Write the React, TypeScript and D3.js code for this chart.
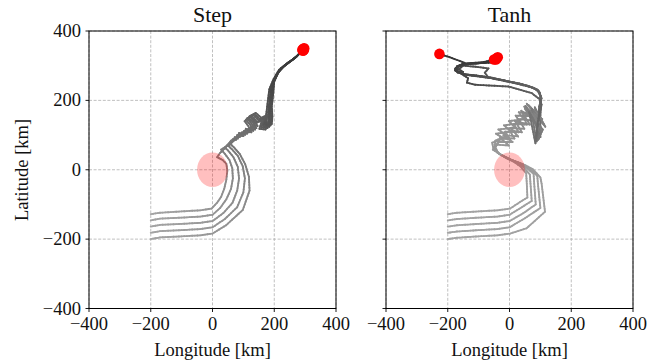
import React from 'react';
import * as d3 from 'd3';

type P = [number, number];

const tickValues = [-400, -200, 0, 200, 400];
const panelTitles = ['Step', 'Tanh'];
const xAxisLabel = 'Longitude [km]';
const yAxisLabel = 'Latitude [km]';
const obstacle = { x: 0, y: 0, r: 50 };

// ---- Step panel trajectories (km) ----
const step0: P[] = [[-200,-128],[-170,-124],[-100,-120],[-40,-117],[-3,-112],[15,-95],[28,-78],[38,-55],[45,-28],[48,-3],[45,17],[33,28],[15,36],[24,48],[38,60],[50,72],[60,84],[76,86],[84,100],[100,97],[108,112],[126,108],[116,126],[104,140],[124,152],[138,134],[160,142],[152,118],[172,116],[176,138],[174,160],[178,190],[184,232],[198,262],[215,288],[240,306],[265,321],[280,333],[291,346]];
const step1: P[] = [[-200,-146],[-170,-141],[-100,-138],[-40,-135],[0,-130],[25,-110],[45,-85],[60,-55],[66,-25],[64,5],[55,28],[40,46],[28,58],[42,66],[56,78],[66,88],[82,90],[90,104],[106,101],[114,116],[132,112],[122,130],[108,144],[128,155],[144,138],[166,146],[158,122],[178,120],[182,142],[180,165],[184,196],[190,240],[204,268],[222,292],[246,309],[268,323],[282,335],[294,349]];
const step2: P[] = [[-200,-164],[-170,-159],[-100,-156],[-40,-153],[0,-148],[35,-125],[65,-95],[80,-60],[86,-25],[82,8],[68,36],[50,56],[40,64],[55,74],[68,84],[72,94],[88,94],[96,108],[112,104],[120,120],[138,116],[126,134],[112,148],[132,158],[150,142],[170,150],[164,126],[184,124],[186,146],[184,170],[188,202],[194,246],[208,275],[228,296],[252,312],[272,326],[284,338],[296,345]];
const step3: P[] = [[-200,-182],[-170,-177],[-100,-174],[-40,-171],[0,-166],[40,-142],[80,-108],[100,-65],[105,-25],[98,10],[82,40],[62,60],[52,68],[64,80],[76,90],[80,100],[96,98],[102,112],[118,108],[124,124],[142,120],[130,138],[116,150],[136,160],[154,146],[174,154],[168,130],[188,128],[190,150],[188,176],[192,208],[198,250],[212,280],[232,299],[256,315],[274,328],[286,340],[293,343]];
const step4: P[] = [[-200,-200],[-170,-195],[-100,-192],[-40,-189],[0,-184],[44,-160],[98,-116],[120,-60],[118,-20],[106,16],[88,46],[68,66],[58,74],[70,86],[82,96],[86,106],[102,104],[108,118],[124,114],[130,130],[146,126],[134,144],[120,154],[140,164],[158,150],[178,158],[172,134],[192,132],[194,154],[192,182],[196,214],[200,256],[216,284],[236,302],[260,318],[276,330],[288,342],[297,350]];

// ---- Tanh panel trajectories (km) ----
const tanh0: P[] = [[-200,-128],[-170,-124],[-100,-120],[-40,-117],[2,-112],[34,-93],[58,-80],[56,-40],[54,-10],[35,10],[12,24],[-15,36],[-38,50],[-46,66],[-30,92],[2,86],[-14,110],[30,108],[14,132],[56,130],[44,158],[100,150],[62,186],[116,124],[82,180],[100,94],[100,150],[102,196],[98,222],[80,236],[40,247],[-20,258],[-90,270],[-150,276],[-175,286],[-170,298],[-145,306],[-100,309],[-60,311],[-42,321]];
const tanh1: P[] = [[-200,-146],[-170,-142],[-100,-138],[-40,-135],[0,-130],[40,-108],[72,-90],[68,-40],[66,-14],[45,8],[20,22],[-10,34],[-36,48],[-48,64],[-46,84],[-8,98],[-36,116],[18,122],[-2,140],[46,146],[30,166],[90,160],[56,190],[110,132],[72,176],[96,90],[98,148],[100,190],[100,214],[88,232],[50,244],[-10,256],[-80,268],[-145,275],[-172,284],[-168,296],[-142,304],[-100,307],[-60,309],[-44,318]];
const tanh2: P[] = [[-200,-164],[-170,-160],[-100,-156],[-40,-153],[0,-148],[45,-125],[85,-100],[80,-40],[78,-12],[55,6],[28,20],[-5,32],[-34,46],[-50,62],[-34,80],[10,80],[-20,100],[28,96],[4,120],[48,118],[30,146],[74,142],[50,176],[106,146],[66,160],[108,116],[92,86],[96,146],[98,186],[102,210],[92,230],[60,242],[0,254],[-70,268],[-80,280],[-68,292],[-110,297],[-150,300],[-165,290],[-150,282],[-172,284],[-168,297],[-140,306],[-90,309],[-50,318]];
const tanh3: P[] = [[-200,-182],[-170,-178],[-100,-174],[-40,-171],[0,-166],[50,-140],[100,-110],[92,-40],[90,-18],[66,4],[36,18],[2,30],[-30,44],[-52,60],[-56,78],[-18,90],[-44,104],[6,110],[-18,128],[36,134],[20,156],[80,154],[48,182],[104,112],[70,170],[88,82],[94,142],[96,182],[104,206],[96,226],[70,238],[10,251],[-60,264],[-130,272],[-168,280],[-176,292],[-155,302],[-120,306],[-80,308],[-38,324]];
const tanh4: P[] = [[-200,-200],[-170,-196],[-100,-192],[-40,-189],[2,-184],[55,-169],[115,-121],[104,-40],[100,-22],[75,2],[44,16],[8,28],[-26,42],[-54,58],[-40,72],[-2,70],[-30,92],[16,90],[0,114],[40,108],[18,140],[66,130],[38,170],[96,136],[52,184],[100,108],[64,166],[84,76],[92,140],[100,170],[104,188],[98,203],[72,221],[-4,240],[-111,245],[-138,251],[-134,264],[-155,276],[-177,287],[-170,298],[-145,308],[-186,322],[-227,334]];

const stepLines = [step0, step1, step2, step3, step4];
const tanhLines = [tanh0, tanh1, tanh2, tanh3, tanh4];

const FONT = '"Liberation Serif", "DejaVu Serif", "Times New Roman", serif';
const PLOT_W = 247;
const TOP = 31;
const BOTTOM = 308.5;
const lineColor = d3.interpolateRgb('#a3a3a3', '#323232');

function Panel({ left, title, lines, showYLabels, gamma }: { left: number; title: string; lines: P[][]; showYLabels: boolean; gamma: number }) {
  const x = d3.scaleLinear().domain([-400, 400]).range([left, left + PLOT_W]);
  const y = d3.scaleLinear().domain([-400, 400]).range([BOTTOM, TOP]);
  const clipId = `clip-${title}`;

  const segs: { x1: number; y1: number; x2: number; y2: number; c: string }[] = [];
  lines.forEach((pts) => {
    const px = pts.map((p) => [x(p[0]), y(p[1])] as P);
    const cum = [0];
    for (let i = 1; i < px.length; i++) {
      cum.push(cum[i - 1] + Math.hypot(px[i][0] - px[i - 1][0], px[i][1] - px[i - 1][1]));
    }
    const total = cum[cum.length - 1];
    for (let i = 0; i < px.length - 1; i++) {
      const a = px[i], b = px[i + 1];
      const d = cum[i + 1] - cum[i];
      const k = Math.max(1, Math.ceil(d / 3));
      for (let j = 0; j < k; j++) {
        const t0 = j / k, t1 = (j + 1) / k;
        const f = (cum[i] + d * (j + 0.5) / k) / total;
        segs.push({
          x1: a[0] + (b[0] - a[0]) * t0,
          y1: a[1] + (b[1] - a[1]) * t0,
          x2: a[0] + (b[0] - a[0]) * t1,
          y2: a[1] + (b[1] - a[1]) * t1,
          c: lineColor(Math.pow(f, gamma)),
        });
      }
    }
  });

  const cx = x(obstacle.x), cy = y(obstacle.y);
  const rx = x(obstacle.r) - x(0), ry = y(0) - y(obstacle.r);
  const fmt = (v: number) => (v < 0 ? '\u2212' + Math.abs(v) : String(v));
  const tickFont = { fontFamily: FONT, fontSize: '18.5px' };

  return (
    <g>
      <defs>
        <clipPath id={clipId}>
          <rect x={left} y={TOP} width={PLOT_W} height={BOTTOM - TOP} />
        </clipPath>
      </defs>
      {tickValues.map((v) => (
        <g key={'g' + v}>
          <line x1={x(v)} x2={x(v)} y1={TOP} y2={BOTTOM} stroke="#b0b0b0" strokeWidth={0.8} strokeDasharray="3,1.6" />
          <line x1={left} x2={left + PLOT_W} y1={y(v)} y2={y(v)} stroke="#b0b0b0" strokeWidth={0.8} strokeDasharray="3,1.6" />
        </g>
      ))}
      <g clipPath={`url(#${clipId})`}>
        {segs.map((s, i) => (
          <line key={i} x1={s.x1} y1={s.y1} x2={s.x2} y2={s.y2} stroke={s.c} strokeWidth={1.85} strokeLinecap="round" />
        ))}
        <ellipse cx={cx} cy={cy} rx={rx} ry={ry} fill="rgba(255,0,0,0.25)" />
        {lines.map((pts, i) => {
          const e = pts[pts.length - 1];
          return <circle key={'d' + i} cx={x(e[0])} cy={y(e[1])} r={5.3} fill="#ff0000" />;
        })}
      </g>
      <rect x={left} y={TOP} width={PLOT_W} height={BOTTOM - TOP} fill="none" stroke="#000" strokeWidth={1} />
      {tickValues.map((v) => (
        <g key={'t' + v}>
          <line x1={x(v)} x2={x(v)} y1={BOTTOM} y2={BOTTOM + 3.5} stroke="#000" strokeWidth={0.9} />
          <line x1={left - 3.5} x2={left} y1={y(v)} y2={y(v)} stroke="#000" strokeWidth={0.9} />
          <text x={x(v)} y={330} textAnchor="middle" style={tickFont} fill="#111">
            {fmt(v)}
          </text>
          {showYLabels && (
            <text x={left - 8} y={y(v) + 6} textAnchor="end" style={tickFont} fill="#111">
              {fmt(v)}
            </text>
          )}
        </g>
      ))}
      <text x={left + PLOT_W / 2} y={356} textAnchor="middle" style={tickFont} fill="#111">{xAxisLabel}</text>
      <text x={left + PLOT_W / 2} y={21.5} textAnchor="middle" style={{ fontFamily: FONT, fontSize: '22px' }} fill="#111">{title}</text>
    </g>
  );
}

export default function App() {
  return (
    <svg width={658} height={362} style={{ position: 'absolute', left: 0, top: 0, background: '#fff' }}>
      <rect x={0} y={0} width={658} height={362} fill="#fff" />
      <Panel left={89} title={panelTitles[0]} lines={stepLines} showYLabels={true} gamma={1.3} />
      <Panel left={386} title={panelTitles[1]} lines={tanhLines} showYLabels={false} gamma={2.1} />
      <text transform="translate(28,170) rotate(-90)" textAnchor="middle" style={{ fontFamily: FONT, fontSize: '18.5px' }} fill="#111">{yAxisLabel}</text>
    </svg>
  );
}
